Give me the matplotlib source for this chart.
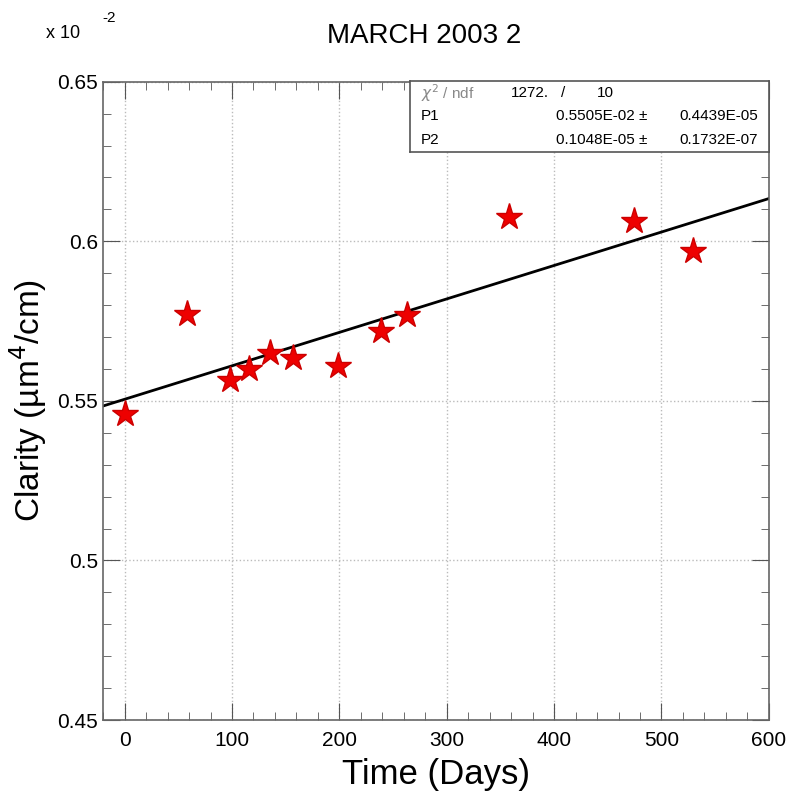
import matplotlib
matplotlib.use("Agg")
import matplotlib.pyplot as plt
import numpy as np
from matplotlib.ticker import MultipleLocator

plt.rcParams['font.family'] = ['Liberation Sans', 'DejaVu Sans']

# data (y in units of 1e-2)
days = [0, 58, 98, 116, 135, 157, 199, 239, 263, 358, 474, 529]
clarity = [0.5459, 0.5773, 0.5566, 0.5600, 0.5650, 0.5635, 0.5610, 0.5719, 0.5770, 0.6077, 0.6064, 0.5970]

# fit parameters from the stats box
p1 = 0.5505
p2 = 0.1048e-3

fig = plt.figure(figsize=(8, 8.09), dpi=100)
ax = fig.add_axes([0.129, 0.110, 0.832, 0.789])

xfit = np.array([-20, 600])
ax.plot(xfit, p1 + p2 * xfit, color='black', lw=2)
ax.plot(days, clarity, '*', color='#ee0000', markersize=20, markeredgecolor='#cc0000')

ax.set_xlim(-20, 600)
ax.set_ylim(0.45, 0.65)
ax.xaxis.set_major_locator(MultipleLocator(100))
ax.xaxis.set_minor_locator(MultipleLocator(20))
ax.yaxis.set_minor_locator(MultipleLocator(0.01))
ax.set_yticks([0.45, 0.5, 0.55, 0.6, 0.65])
ax.set_yticklabels(['0.45', '0.5', '0.55', '0.6', '0.65'])
ax.tick_params(which='both', direction='in', top=True, right=True, labelsize=15, color='#555555')
ax.tick_params(which='major', length=12)
ax.tick_params(which='minor', length=6)
ax.tick_params(axis='x', pad=8)
for s in ax.spines.values():
    s.set_color('#666666')
    s.set_linewidth(1.2)
ax.grid(True, which='major', ls=':', color='#bbbbbb', lw=1)

ax.set_xlabel('Time (Days)', fontsize=25, labelpad=6)
ax.set_ylabel('Clarity (µm$^4$/cm)', fontsize=24, labelpad=6)
fig.text(0.53, 0.955, 'MARCH 2003 2', fontsize=20, ha='center', va='center')
fig.text(0.058, 0.958, 'x 10', fontsize=13, ha='left', va='center')
fig.text(0.128, 0.978, '-2', fontsize=11, ha='left', va='center')

# stats box
bx = fig.add_axes([0.513, 0.812, 0.448, 0.088])
bx.set_xlim(0, 1)
bx.set_ylim(0, 3)
bx.set_xticks([])
bx.set_yticks([])
bx.patch.set_facecolor('white')
for s in bx.spines.values():
    s.set_color('#555555')
    s.set_linewidth(1.2)
fs = 11
bx.text(0.03, 2.5, r'$\chi^2$ / ndf', fontsize=fs, color='#888888', va='center')
bx.text(0.28, 2.5, '1272.', fontsize=fs, va='center')
bx.text(0.42, 2.5, '/', fontsize=fs, va='center')
bx.text(0.52, 2.5, '10', fontsize=fs, va='center')
bx.text(0.03, 1.5, 'P1', fontsize=fs, va='center')
bx.text(0.66, 1.5, '0.5505E-02 ±', fontsize=fs, ha='right', va='center')
bx.text(0.97, 1.5, '0.4439E-05', fontsize=fs, ha='right', va='center')
bx.text(0.03, 0.5, 'P2', fontsize=fs, va='center')
bx.text(0.66, 0.5, '0.1048E-05 ±', fontsize=fs, ha='right', va='center')
bx.text(0.97, 0.5, '0.1732E-07', fontsize=fs, ha='right', va='center')

fig.savefig('out.png', dpi=100)
